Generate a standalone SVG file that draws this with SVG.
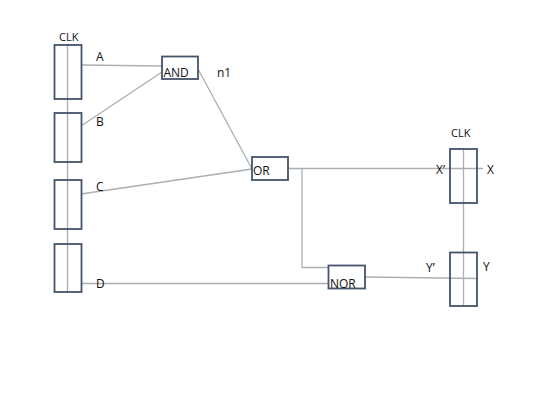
<svg xmlns="http://www.w3.org/2000/svg" width="540" height="405" viewBox="0 0 540 405">
<style>
.box{fill:#fff;fill-opacity:0;stroke:#44546a;stroke-width:1.8}
.w{fill:none;stroke:#a8b0b4;stroke-width:1.3}
text{font-family:"Open Sans","DejaVu Sans",sans-serif;font-size:12px;fill:#111}
.s{font-size:11px}
</style>
<rect width="540" height="405" fill="#fff"/>
<g id="connectors">
<path class="w" d="M67.500 45V292"/>
<path class="w" d="M81 65L162 66"/>
<path class="w" d="M81 126L162 72"/>
<path class="w" d="M81 194L252 169"/>
<path class="w" d="M81 283.500H329"/>
<path class="w" d="M198 69L252 169"/>
<path class="w" d="M288 168.500H483"/>
<path class="w" d="M302 168.500V267.500H329"/>
<path class="w" d="M365 277L477 278.500"/>
<path class="w" d="M463.500 149V305"/>
</g>
<g id="clk-left"><text class="s" x="59" y="41">CLK</text></g>
<g id="reg-a"><rect class="box" x="54.500" y="45" width="27" height="54"/><text x="96" y="60.500">A</text></g>
<g id="reg-b"><rect class="box" x="54.500" y="113" width="27" height="49"/><text x="96" y="125.500">B</text></g>
<g id="reg-c"><rect class="box" x="54.500" y="180" width="27" height="49"/><text x="96" y="190.500">C</text></g>
<g id="reg-d"><rect class="box" x="54.500" y="244" width="27" height="48"/><text x="96" y="288">D</text></g>
<g id="and"><rect class="box" x="162" y="56.500" width="36" height="22.500"/><text x="163.500" y="76.500">AND</text></g>
<g id="n1"><text x="217" y="77">n1</text></g>
<g id="or"><rect class="box" x="252" y="157" width="36" height="23"/><text x="253" y="174.500">OR</text></g>
<g id="nor"><rect class="box" x="328.500" y="265.500" width="36.500" height="23"/><text x="330" y="288">NOR</text></g>
<g id="reg-x"><text class="s" x="451" y="137">CLK</text><rect class="box" x="450" y="149" width="27" height="54"/><text x="436" y="174">X’</text><text x="487" y="174">X</text></g>
<g id="reg-y"><rect class="box" x="450" y="252.500" width="27" height="53.500"/><text x="426" y="271.500">Y’</text><text x="483" y="271">Y</text></g>
</svg>
